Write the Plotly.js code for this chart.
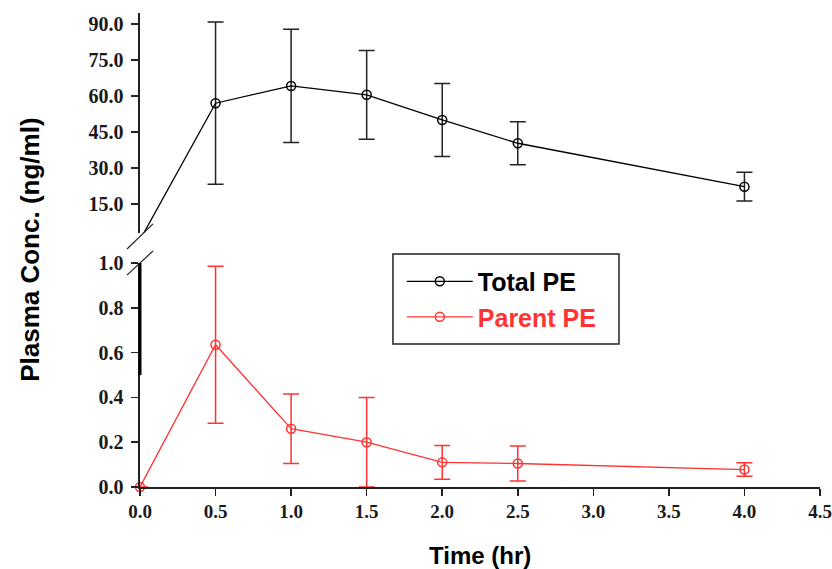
<!DOCTYPE html>
<html>
<head>
<meta charset="utf-8">
<script src="https://cdn.plot.ly/plotly-3.0.1.min.js"></script>
<style>html,body{margin:0;padding:0;background:#fff;}#chart{width:832px;height:569px;}</style>
</head>
<body>
<div id="chart"></div>
<script>
// Data
const timeHr = [0, 0.5, 1.0, 1.5, 2.0, 2.5, 4.0];
const totalPE = [0, 57.0, 64.2, 60.5, 50.0, 40.3, 22.2];
const totalPEErr = [null, 33.8, 23.6, 18.5, 15.2, 9.0, 6.0];
const parentPE = [0, 0.635, 0.26, 0.20, 0.11, 0.105, 0.078];
const parentPEErr = [null, 0.35, 0.155, 0.20, 0.075, 0.078, 0.03];
const xTicks = [0, 0.5, 1.0, 1.5, 2.0, 2.5, 3.0, 3.5, 4.0, 4.5];
const upperTicks = [15, 30, 45, 60, 75, 90];
const lowerTicks = [0, 0.2, 0.4, 0.6, 0.8, 1.0];

const RED = '#ff3333';
const yTickFont = {family: 'Liberation Serif, Times New Roman, serif', size: 20, color: '#1a1a1a', weight: 'bold'};
const xTickFont = {family: 'Liberation Serif, Times New Roman, serif', size: 19, color: '#1a1a1a', weight: 'bold'};

const traces = [
  {
    x: timeHr, y: totalPE, name: 'Total PE', type: 'scatter', mode: 'lines+markers',
    xaxis: 'x', yaxis: 'y2', cliponaxis: true,
    line: {color: '#000', width: 1.3},
    marker: {symbol: 'circle-open', size: 9, color: '#000', line: {width: 1.5, color: '#000'}},
    error_y: {type: 'data', array: totalPEErr, visible: true, color: '#222', thickness: 1.5, width: 8}
  },
  {
    x: timeHr, y: parentPE, name: '<span style="color:' + RED + '">Parent PE</span>', type: 'scatter', mode: 'lines+markers',
    xaxis: 'x', yaxis: 'y', cliponaxis: false,
    line: {color: RED, width: 1.3},
    marker: {symbol: 'circle-open', size: 9, color: RED, line: {width: 1.5, color: RED}},
    error_y: {type: 'data', array: parentPEErr, visible: true, color: RED, thickness: 1.5, width: 8}
  }
];

const yCommon = {
  showline: true, linecolor: '#222', linewidth: 1.6, ticks: 'outside', ticklen: 7, tickwidth: 1.5, tickcolor: '#222',
  showgrid: false, zeroline: false, tickfont: yTickFont, anchor: 'x', tickformat: '.1f', ticklabelstandoff: 4
};

const layout = {
  width: 832, height: 569,
  margin: {l: 140, r: 12, t: 13, b: 82},
  paper_bgcolor: '#fff', plot_bgcolor: '#fff',
  showlegend: true,
  xaxis: {
    range: [0, 4.5], tickvals: xTicks, tickformat: '.1f',
    showline: true, linecolor: '#222', linewidth: 1.6, ticks: 'outside', ticklen: 7, tickwidth: 1.5, tickcolor: '#222',
    showgrid: false, zeroline: false, tickfont: xTickFont, anchor: 'y'
  },
  yaxis: Object.assign({domain: [0, 0.4726], range: [0, 1.0], tickvals: lowerTicks}, yCommon),
  yaxis2: Object.assign({domain: [0.5359, 1], range: [2.9, 94.6], tickvals: upperTicks}, yCommon),
  legend: {
    x: 0.385, y: 0.482, xanchor: 'left', yanchor: 'top',
    bgcolor: 'rgba(0,0,0,0)', borderwidth: 0,
    font: {family: 'Liberation Sans, Arial, sans-serif', size: 25, color: '#000', weight: 'bold'},
    itemwidth: 66
  },
  shapes: [
    // legend frame
    {type: 'rect', xref: 'paper', yref: 'paper', x0: 0.372, x1: 0.7044, y0: 0.3017, y1: 0.4916, line: {color: '#222', width: 1.5}},
    // axis break marks
    {type: 'line', xref: 'paper', yref: 'paper', x0: -0.0191, y0: 0.502, x1: 0.0191, y1: 0.555, line: {color: '#222', width: 1.2}},
    {type: 'line', xref: 'paper', yref: 'paper', x0: -0.0191, y0: 0.447, x1: 0.0191, y1: 0.498, line: {color: '#222', width: 1.2}},
    // thick segment on lower axis
    {type: 'line', xref: 'paper', yref: 'paper', x0: 0, y0: 0.236, x1: 0, y1: 0.4726, line: {color: '#000', width: 3}}
  ],
  annotations: [
    {text: 'Plasma Conc. (ng/ml)', xref: 'paper', yref: 'paper', x: -0.162, y: 0.5, textangle: -90, showarrow: false,
     xanchor: 'center', yanchor: 'middle', font: {family: 'Liberation Sans, Arial, sans-serif', size: 26, color: '#000', weight: 'bold'}},
    {text: 'Time (hr)', xref: 'paper', yref: 'paper', x: 0.5, y: -0.1435, showarrow: false,
     xanchor: 'center', yanchor: 'middle', font: {family: 'Liberation Sans, Arial, sans-serif', size: 24, color: '#000', weight: 'bold'}}
  ]
};

Plotly.newPlot('chart', traces, layout, {displayModeBar: false, staticPlot: true});
</script>
</body>
</html>
